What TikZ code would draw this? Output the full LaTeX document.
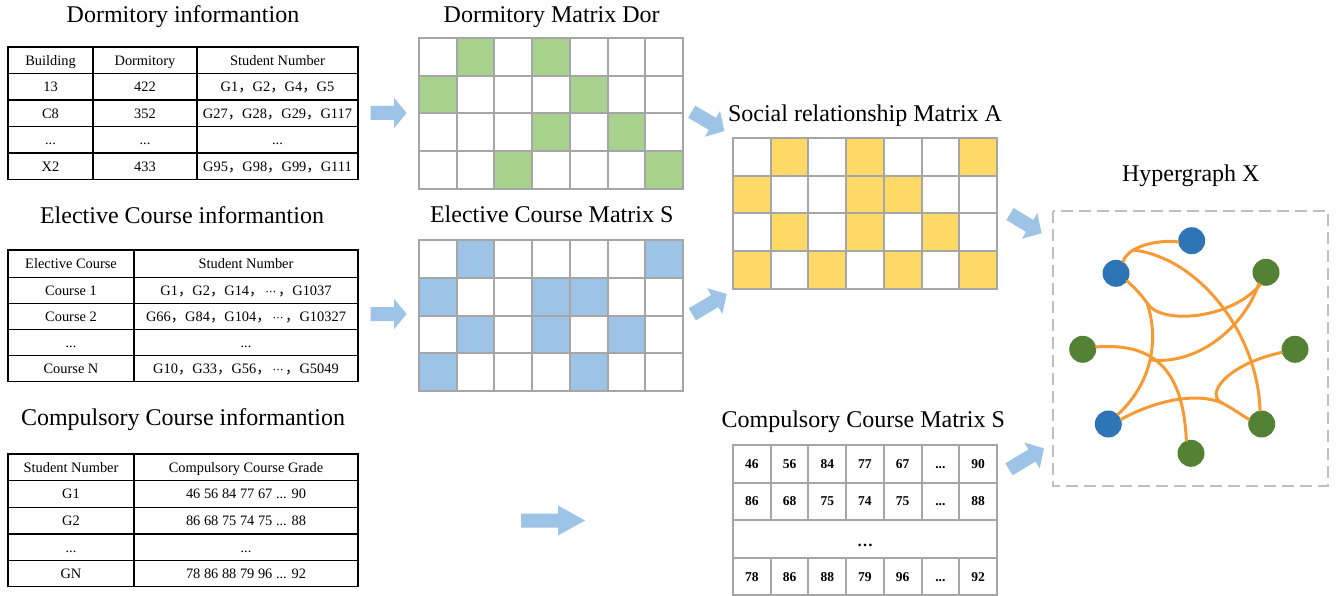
\documentclass[tikz,border=0pt]{standalone}
\usepackage{fontspec}
\setmainfont{Liberation Serif}
\newfontfamily\cjk{Noto Sans CJK SC}
\newfontfamily\djv{DejaVu Sans}
\newcommand\cm{{\cjk ，}}
\newcommand\mdots{\makebox[1em]{\djv\fontsize{11}{13}\selectfont ⋯}}
\newcommand\bdots{...}
\definecolor{agreen}{HTML}{A9D18E}
\definecolor{ablue}{HTML}{9DC3E6}
\definecolor{ayellow}{HTML}{FFD966}
\definecolor{gridgray}{HTML}{A6A6A6}
\definecolor{boxgray}{HTML}{BFBFBF}
\definecolor{nblue}{HTML}{2E75B6}
\definecolor{ngreen}{HTML}{548235}
\definecolor{eorange}{HTML}{F79A33}
\definecolor{arrowc}{HTML}{9DC3E6}
\newcommand\barrow[5]{\fill[arrowc, shift={(#1,#2)}, rotate=#3] (0,-7) -- ({#4-#5},-7) -- ({#4-#5},-15) -- (#4,0) -- ({#4-#5},15) -- ({#4-#5},7) -- (0,7) -- cycle;}
\newcommand\cellmatrix[4]{%
 \begin{scope}[shift={(#1,#2)}]
 \foreach \c/\r in {#4} \fill[#3] ({(\c-1)*37.71},{(\r-1)*37.75}) rectangle ++(37.71,37.75);
 \foreach \i in {0,...,7} \draw[gline] ({\i*37.71},0) -- ++(0,151);
 \foreach \j in {0,...,4} \draw[gline] (0,{\j*37.75}) -- ++(264,0);
 \end{scope}}
\begin{document}
\begin{tikzpicture}[x=1pt,y=-1pt,
 title/.style={font=\fontsize{24}{28}\selectfont, inner sep=0pt, text height=16pt, text depth=0pt},
 tcell/.style={font=\fontsize{14.4}{17}\selectfont, inner sep=0pt, text height=9.6pt, text depth=0pt},
 tline/.style={line width=1.3pt, black, line cap=rect},
 gline/.style={line width=2pt, gridgray, line cap=rect},
 mnum/.style={font=\fontsize{13.5}{16}\selectfont\bfseries, inner sep=0pt, text height=9pt, text depth=0pt},
 hnode/.style={circle, minimum size=27pt, inner sep=0pt},
 hedge/.style={line width=3pt, eorange, line cap=round}]
\useasboundingbox (0,0) rectangle (1339,596);

% ---------- Titles ----------
\node[title] (t1) at (183,14.5) {Dormitory informantion};
\node[title] (t2) at (182,215.8) {Elective Course informantion};
\node[title] (t3) at (183,417.5) {Compulsory Course informantion};
\node[title] (t4) at (551.7,14.2) {Dormitory Matrix Dor};
\node[title] (t5) at (551.7,214.2) {Elective Course Matrix S};
\node[title] (t6) at (865,113.3) {Social relationship Matrix A};
\node[title] (t7) at (863.3,419) {Compulsory Course Matrix S};
\node[title] (t8) at (1190.8,173.3) {Hypergraph X};

% ---------- Table 1 ----------
\draw[tline] (8,47) rectangle (358,179.5);
\foreach \y in {73.5,100,126.5,153} \draw[tline] (8,\y) -- (358,\y);
\foreach \x in {93,197} \draw[tline] (\x,47) -- (\x,179.5);
\node[tcell] (a11) at (50.5,60.25) {Building};
\node[tcell] (a12) at (145,60.25) {Dormitory};
\node[tcell] (a13) at (277.5,60.25) {Student Number};
\node[tcell] (a21) at (50.5,86.75) {13};
\node[tcell] (a22) at (145,86.75) {422};
\node[tcell] (a23) at (277.5,86.75) {G1\cm G2\cm G4\cm G5};
\node[tcell] (a31) at (50.5,113.25) {C8};
\node[tcell] (a32) at (145,113.25) {352};
\node[tcell] (a33) at (277.5,113.25) {G27\cm G28\cm G29\cm G117};
\node[tcell] (a41) at (50.5,139.75) {...};
\node[tcell] (a42) at (145,139.75) {...};
\node[tcell] (a43) at (277.5,139.75) {...};
\node[tcell] (a51) at (50.5,166.25) {X2};
\node[tcell] (a52) at (145,166.25) {433};
\node[tcell] (a53) at (277.5,166.25) {G95\cm G98\cm G99\cm G111};

% ---------- Table 2 ----------
\draw[tline] (8,250) rectangle (358,381.7);
\foreach \y in {277.3,303.3,329.3,355.7} \draw[tline] (8,\y) -- (358,\y);
\draw[tline] (134,250) -- (134,381.7);
\node[tcell] (b11) at (71,263.7) {Elective Course};
\node[tcell] (b12) at (246,263.7) {Student Number};
\node[tcell] (b21) at (71,290.3) {Course 1};
\node[tcell] (b22) at (246,290.3) {G1\cm G2\cm G14\cm\mdots\cm G1037};
\node[tcell] (b31) at (71,316.3) {Course 2};
\node[tcell] (b32) at (246,316.3) {G66\cm G84\cm G104\cm\mdots\cm G10327};
\node[tcell] (b41) at (71,342.5) {...};
\node[tcell] (b42) at (246,342.5) {...};
\node[tcell] (b51) at (71,368.7) {Course N};
\node[tcell] (b52) at (246,368.7) {G10\cm G33\cm G56\cm\mdots\cm G5049};

% ---------- Table 3 ----------
\draw[tline] (8,454) rectangle (358,586.7);
\foreach \y in {480.7,507.3,534,560.7} \draw[tline] (8,\y) -- (358,\y);
\draw[tline] (134,454) -- (134,586.7);
\node[tcell] (c11) at (71,467.3) {Student Number};
\node[tcell] (c12) at (246,467.3) {Compulsory Course Grade};
\node[tcell] (c21) at (71,494) {G1};
\node[tcell] (c22) at (246,494) {46 56 84 77 67 ... 90};
\node[tcell] (c31) at (71,520.7) {G2};
\node[tcell] (c32) at (246,520.7) {86 68 75 74 75 ... 88};
\node[tcell] (c41) at (71,547.3) {...};
\node[tcell] (c42) at (246,547.3) {...};
\node[tcell] (c51) at (71,573.7) {GN};
\node[tcell] (c52) at (246,573.7) {78 86 88 79 96 ... 92};

% ---------- Matrices ----------
\cellmatrix{419}{38}{agreen}{2/1,4/1,1/2,5/2,4/3,6/3,3/4,7/4}
\cellmatrix{419}{240}{ablue}{2/1,7/1,1/2,4/2,5/2,2/3,4/3,6/3,1/4,5/4}
\cellmatrix{733}{138}{ayellow}{2/1,4/1,7/1,1/2,4/2,5/2,2/3,4/3,6/3,1/4,3/4,5/4,7/4}

% Compulsory matrix
\begin{scope}[shift={(733,445)}]
 \foreach \j in {0,...,4} \draw[gline] (0,{\j*37.6}) -- ++(264,0);
 \draw[gline] (0,0) -- (0,150.4);
 \draw[gline] (264,0) -- (264,150.4);
 \foreach \i in {1,...,6} {\draw[gline] ({\i*37.71},0) -- ++(0,75.2); \draw[gline] ({\i*37.71},112.8) -- ++(0,37.6);}
 \foreach \v [count=\i] in {46,56,84,77,67,\bdots,90} \node[mnum] (ma\i) at ({(\i-0.5)*37.71},18.8) {\v};
 \foreach \v [count=\i] in {86,68,75,74,75,\bdots,88} \node[mnum] (mb\i) at ({(\i-0.5)*37.71},56.4) {\v};
 \foreach \v [count=\i] in {78,86,88,79,96,\bdots,92} \node[mnum] (md\i) at ({(\i-0.5)*37.71},131.6) {\v};
 \node[font=\fontsize{16}{18}\selectfont\bfseries, inner sep=0pt, anchor=base] (mc) at (132,101.5) {\ldots};
\end{scope}

% ---------- Block arrows ----------
\barrow{370.7}{113}{0}{36}{12.5}
\barrow{370.7}{314}{0}{36}{12.5}
\barrow{521}{520.5}{0}{64}{27}
\barrow{691.7}{111.7}{-30.6}{38}{14}
\barrow{692.3}{314.3}{30.5}{40}{14}
\barrow{1010}{214}{-31.3}{37}{14}
\barrow{1009}{469.3}{31}{40.8}{14}

% ---------- Hypergraph ----------
\draw[boxgray, line width=2pt, dash pattern=on 12pt off 6pt] (1053,211) rectangle (1328,486);
\node[hnode, fill=nblue] (bt) at (1191.7,240.7) {};
\node[hnode, fill=nblue] (bul) at (1116,273.3) {};
\node[hnode, fill=ngreen] (gur) at (1266,272.3) {};
\node[hnode, fill=ngreen] (gl) at (1082.7,349.3) {};
\node[hnode, fill=ngreen] (gr) at (1295,349.3) {};
\node[hnode, fill=nblue] (bll) at (1108.3,424) {};
\node[hnode, fill=ngreen] (glr) at (1261.7,424) {};
\node[hnode, fill=ngreen] (gb) at (1191,453.3) {};
\coordinate (j1) at (1133.3,250);
\coordinate (j2) at (1147,303);
\coordinate (j3) at (1151,360);
\coordinate (j4) at (1222,403);
\draw[hedge] (bt.185) .. controls (1165,240) and (1145,243) .. (j1);
\draw[hedge] (j1) .. controls (1127,254) and (1124,258) .. (bul.58);
\draw[hedge] (j1) .. controls (1200,258) and (1258,335) .. (glr.97);
\draw[hedge] (bul.-35) .. controls (1137,290) and (1143,297) .. (j2);
\draw[hedge] (j2) .. controls (1160,325) and (1230,320) .. (gur.-115);
\draw[hedge] (j2) .. controls (1158,335) and (1155,380) .. (bll.45);
\draw[hedge] (gur.-122) .. controls (1245,325) and (1200,365) .. (j3);
\draw[hedge] (gl.10) .. controls (1150,343) and (1183,365) .. (gb.110);
\draw[hedge] (bll.20) .. controls (1160,398) and (1200,393) .. (j4);
\draw[hedge] (j4) .. controls (1232,408) and (1240,414) .. (glr.160);
\draw[hedge] (j4) .. controls (1205,395) and (1225,365) .. (gr.193);
\end{tikzpicture}
\end{document}
